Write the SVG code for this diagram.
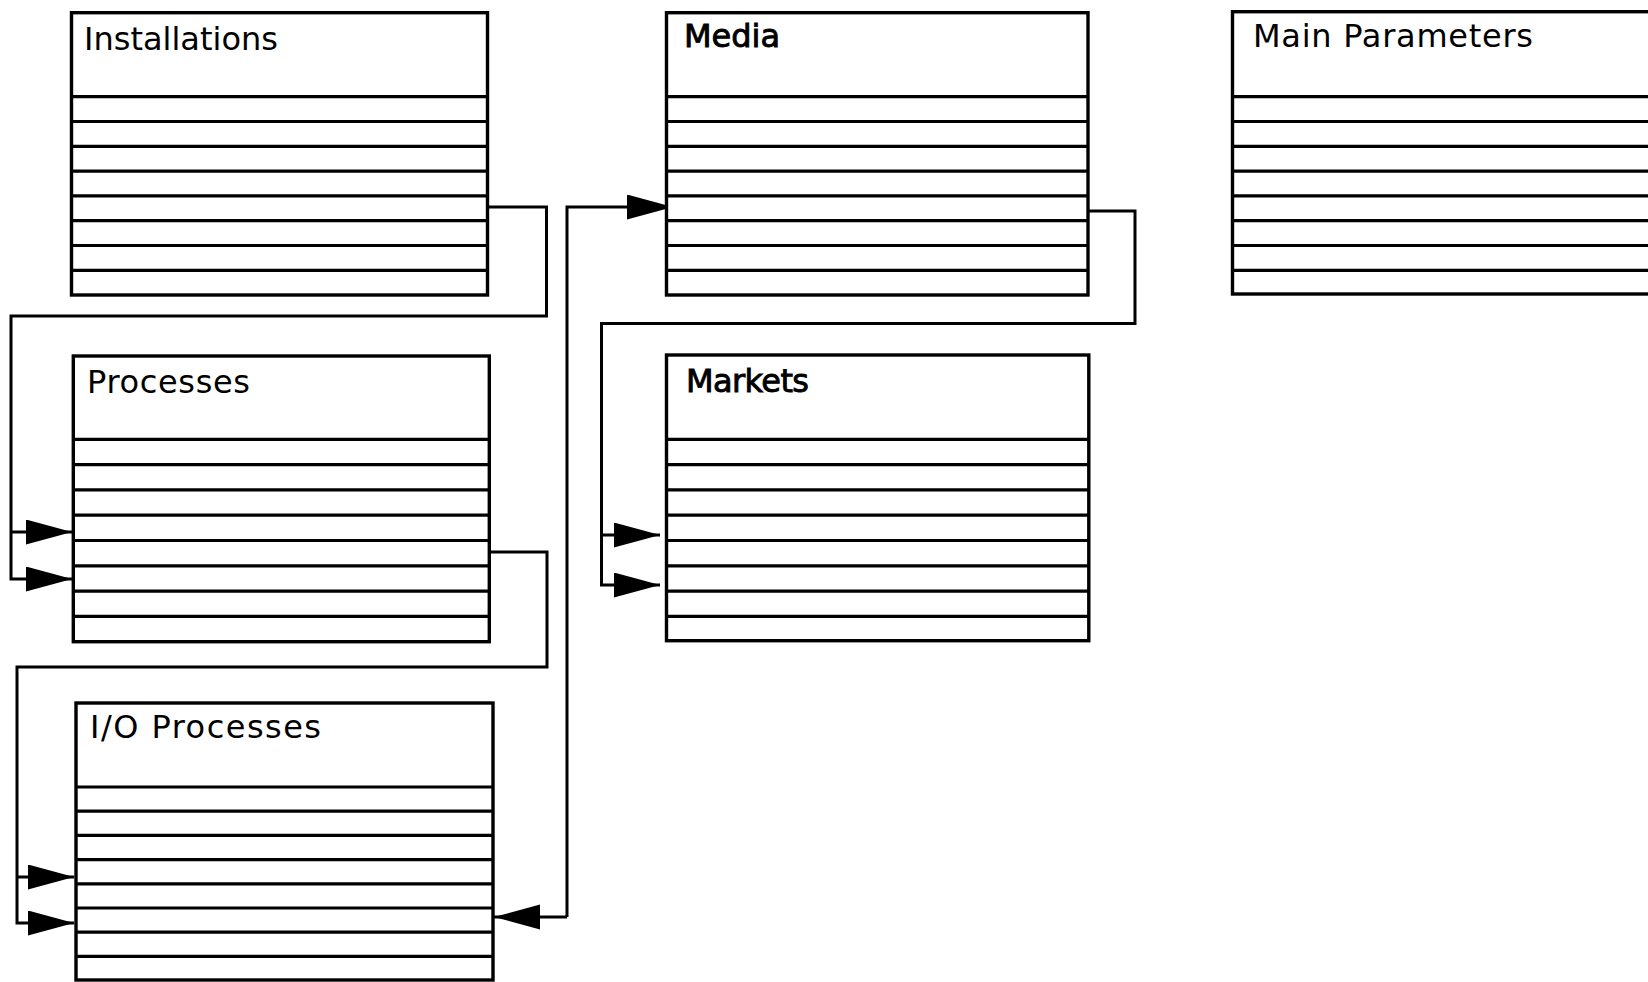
<svg xmlns="http://www.w3.org/2000/svg" width="1648" height="982" viewBox="0 0 1648 982">
  <style>
    .box { fill: #fff; stroke: #000; stroke-width: 3.4; }
    .row { stroke: #000; stroke-width: 3.2; fill: none; }
    .title { font-family: "DejaVu Sans", "Liberation Sans", sans-serif; font-size: 32px; fill: #000; }
    .heavy { stroke: #000; stroke-width: 0.9; }
    .wire { fill: none; stroke: #000; stroke-width: 3; }
    .arrow { marker-end: url(#head); }
  </style>
  <defs>
    <marker id="head" markerUnits="userSpaceOnUse" markerWidth="48" markerHeight="26" refX="46" refY="12.5" orient="auto">
      <path d="M0,0 L46,12.5 L0,25 Z" fill="#000"/>
    </marker>
  </defs>

  <rect width="1648" height="982" fill="#fff"/>

  <!-- connectors -->
  <g id="connectors">
    <!-- Installations to Processes -->
    <path class="wire arrow" d="M488,207 H546.5 V316 H11 V579 H72"/>
    <path class="wire arrow" d="M11,532 H72"/>
    <!-- Processes to I/O Processes -->
    <path class="wire arrow" d="M490,552 H547 V667 H17 V923 H74"/>
    <path class="wire arrow" d="M17,877 H74"/>
    <!-- I/O Processes and Media link -->
    <path class="wire arrow" d="M567,917 H494"/>
    <path class="wire arrow" d="M567,917 V207 H673"/>
    <!-- Media to Markets -->
    <path class="wire arrow" d="M1088,211 H1135 V323.5 H601.5 V585 H660"/>
    <path class="wire arrow" d="M601.5,535 H660"/>
  </g>

  <!-- Installations -->
  <g id="installations">
    <rect class="box" x="71.5" y="12.7" width="416" height="282.3"/>
    <path class="row" d="M71.5,96.7 H487.5 M71.5,121.5 H487.5 M71.5,146.3 H487.5 M71.5,171.1 H487.5 M71.5,195.9 H487.5 M71.5,220.7 H487.5 M71.5,245.5 H487.5 M71.5,270.3 H487.5"/>
    <text class="title" x="84" y="50">Installations</text>
  </g>

  <!-- Processes -->
  <g id="processes">
    <rect class="box" x="73.3" y="356" width="416" height="285.7"/>
    <path class="row" d="M73.3,439.3 H489.3 M73.3,464.6 H489.3 M73.3,489.9 H489.3 M73.3,515.2 H489.3 M73.3,540.5 H489.3 M73.3,565.8 H489.3 M73.3,591.1 H489.3 M73.3,616.4 H489.3"/>
    <text class="title" x="87" y="393" textLength="163" lengthAdjust="spacing">Processes</text>
  </g>

  <!-- I/O Processes -->
  <g id="io-processes">
    <rect class="box" x="76" y="703" width="417" height="277"/>
    <path class="row" d="M76,787 H493 M76,811.2 H493 M76,835.4 H493 M76,859.6 H493 M76,883.8 H493 M76,908 H493 M76,932.2 H493 M76,956.4 H493"/>
    <text class="title" x="90" y="738" textLength="231" lengthAdjust="spacing">I/O Processes</text>
  </g>

  <!-- Media -->
  <g id="media">
    <rect class="box" x="666.5" y="12.7" width="421.5" height="282.3"/>
    <path class="row" d="M666.5,96.7 H1088 M666.5,121.5 H1088 M666.5,146.3 H1088 M666.5,171.1 H1088 M666.5,195.9 H1088 M666.5,220.7 H1088 M666.5,245.5 H1088 M666.5,270.3 H1088"/>
    <text class="title heavy" x="684" y="47">Media</text>
  </g>

  <!-- Markets -->
  <g id="markets">
    <rect class="box" x="666.5" y="355" width="422.3" height="285.7"/>
    <path class="row" d="M666.5,439.3 H1088.8 M666.5,464.6 H1088.8 M666.5,489.9 H1088.8 M666.5,515.2 H1088.8 M666.5,540.5 H1088.8 M666.5,565.8 H1088.8 M666.5,591.1 H1088.8 M666.5,616.4 H1088.8"/>
    <text class="title heavy" x="686" y="392" textLength="123" lengthAdjust="spacing">Markets</text>
  </g>

  <!-- Main Parameters (runs past the right border) -->
  <g id="main-parameters">
    <rect class="box" x="1232.5" y="11.7" width="440" height="282.3"/>
    <path class="row" d="M1232.5,96.7 H1672 M1232.5,121.5 H1672 M1232.5,146.3 H1672 M1232.5,171.1 H1672 M1232.5,195.9 H1672 M1232.5,220.7 H1672 M1232.5,245.5 H1672 M1232.5,270.3 H1672"/>
    <text class="title" x="1253" y="47" textLength="280" lengthAdjust="spacing">Main Parameters</text>
  </g>
</svg>
